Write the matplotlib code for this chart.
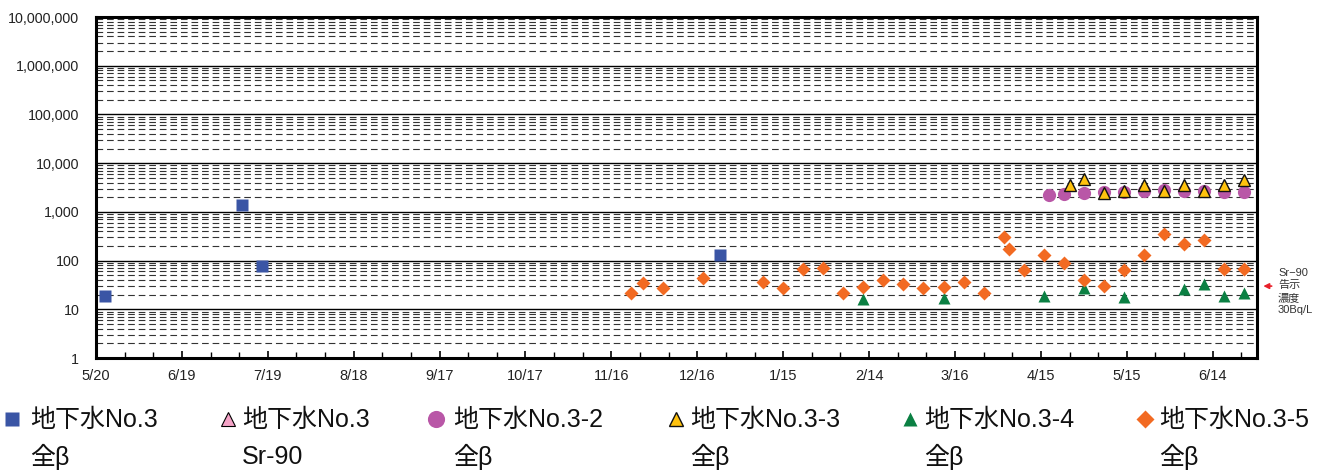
#!/usr/bin/env python
"""Groundwater No.3 series: total beta / Sr-90 concentrations (Bq/L), log scale."""

import datetime as dt

import matplotlib
matplotlib.use("Agg")
import matplotlib.pyplot as plt
import matplotlib.dates as mdates
from matplotlib.lines import Line2D
from matplotlib.ticker import FixedLocator, FuncFormatter, NullFormatter

plt.rcParams['font.family'] = ['Liberation Sans', 'Noto Sans CJK JP', 'DejaVu Sans']

# ---- data ------------------------------------------------------------------
no3_dates = ['2013-05-23', '2013-07-10', '2013-07-17', '2013-12-24']
no3_vals = [19, 1400, 77, 130]

no3_sr90_dates = []          # legend entry only, no points visible
no3_sr90_vals = []

no3_2_dates = ['2014-04-18', '2014-04-23', '2014-04-30', '2014-05-07', '2014-05-14',
               '2014-05-21', '2014-05-28', '2014-06-04', '2014-06-11', '2014-06-18',
               '2014-06-25']
no3_2_vals = [2220, 2300, 2400, 2520, 2600, 2700, 2850, 2700, 2700, 2600, 2600]

no3_3_dates = ['2014-04-25', '2014-04-30', '2014-05-07', '2014-05-14', '2014-05-21',
               '2014-05-28', '2014-06-04', '2014-06-11', '2014-06-18', '2014-06-25']
no3_3_vals = [3550, 4650, 2500, 2700, 3600, 2700, 3600, 2700, 3550, 4450]

no3_4_dates = ['2014-02-12', '2014-03-12', '2014-04-16', '2014-04-30', '2014-05-14',
               '2014-06-04', '2014-06-11', '2014-06-18', '2014-06-25']
no3_4_vals = [16.5, 17.3, 19, 27, 18, 26, 33, 19, 22]

no3_5_dates = ['2013-11-23', '2013-11-27', '2013-12-04', '2013-12-18', '2014-01-08',
               '2014-01-15', '2014-01-22', '2014-01-29', '2014-02-05', '2014-02-12',
               '2014-02-19', '2014-02-26', '2014-03-05', '2014-03-12', '2014-03-19',
               '2014-03-26', '2014-04-02', '2014-04-04', '2014-04-09', '2014-04-16',
               '2014-04-23', '2014-04-30', '2014-05-07', '2014-05-14', '2014-05-21',
               '2014-05-28', '2014-06-04', '2014-06-11', '2014-06-18', '2014-06-25']
no3_5_vals = [22, 35, 28, 43, 36, 28, 68, 69, 22, 29,
              40, 33, 28, 29, 37, 22, 300, 170, 64, 128,
              89, 40, 30, 65, 128, 350, 215, 260, 68, 68]

legend_line1 = ['地下水No.3', '地下水No.3', '地下水No.3-2', '地下水No.3-3',
                '地下水No.3-4', '地下水No.3-5']
legend_line2 = ['全β', 'Sr-90', '全β', '全β', '全β', '全β']

y_ticks = [1, 10, 100, 1000, 10000, 100000, 1000000, 10000000]
SR90_LIMIT = 30
limit_lines = ['Sr\u221290', '告示', '濃度', '30Bq/L']

START = dt.date(2013, 5, 20)
END = dt.date(2014, 6, 29)


def to_dates(strings):
    return [dt.datetime.strptime(s, '%Y-%m-%d') for s in strings]


# ---- styles ----------------------------------------------------------------
series = [
    (no3_dates, no3_vals, dict(marker='s', ms=8, color='#3a55a5', mec='none')),
    (no3_sr90_dates, no3_sr90_vals, dict(marker='^', ms=8, color='#f5a3c7', mec='black', mew=0.8)),
    (no3_2_dates, no3_2_vals, dict(marker='o', ms=9.5, color='#b957a7', mec='none')),
    (no3_3_dates, no3_3_vals, dict(marker='^', ms=8, color='#ffc20e', mec='#111111', mew=1.0)),
    (no3_4_dates, no3_4_vals, dict(marker='^', ms=8, color='#0b8043', mec='none')),
    (no3_5_dates, no3_5_vals, dict(marker='D', ms=7, color='#f26a22', mec='none')),
]

W, H = 1337.0, 473.0
fig = plt.figure(figsize=(13.37, 4.73), dpi=100)
ax = fig.add_axes([0.0718, 0.243, 0.8684, 0.721])

for d, v, st in series:
    ax.plot(to_dates(d), v, linestyle='none', **st)

ax.set_yscale('log')
ax.set_ylim(1, 1e7)
ax.set_xlim(mdates.date2num(START), mdates.date2num(END) + 0.5)

# grid: solid decades, dashed 2..9
ax.yaxis.set_major_locator(FixedLocator(y_ticks))
ax.yaxis.set_major_formatter(FuncFormatter(lambda v, p: f'{int(round(v)):,}'))
ax.yaxis.set_minor_formatter(NullFormatter())
ax.grid(axis='y', which='major', color='black', linewidth=1.0, linestyle='-')
ax.grid(axis='y', which='minor', color='#333333', linewidth=0.8,
        linestyle=(0, (6, 3.5)))
ax.set_axisbelow(True)

# x ticks: every 30 days labelled, minor every 10 days
major_x = [mdates.date2num(START + dt.timedelta(days=30 * i)) for i in range(14)]
minor_x = [mdates.date2num(START + dt.timedelta(days=10 * i)) for i in range(41)]
ax.xaxis.set_major_locator(FixedLocator(major_x))
ax.xaxis.set_minor_locator(FixedLocator(minor_x))
ax.xaxis.set_major_formatter(FuncFormatter(
    lambda v, p: f'{mdates.num2date(v).month}/{mdates.num2date(v).day}'))
ax.tick_params(axis='x', which='major', direction='in', length=5, width=1.2,
               pad=8, labelsize=10.5, labelcolor='#222222')
ax.tick_params(axis='x', which='minor', direction='in', length=4, width=1.0)
ax.tick_params(axis='y', which='both', length=0, pad=12, labelsize=10.3,
               labelcolor='#222222')

for sp in ax.spines.values():
    sp.set_linewidth(2.2)
    sp.set_color('black')

# Sr-90 limit marker on the right
ax.annotate('', xy=(1.003, SR90_LIMIT), xycoords=('axes fraction', 'data'),
            xytext=(1.015, SR90_LIMIT), textcoords=('axes fraction', 'data'),
            arrowprops=dict(arrowstyle='-|>', color='#e8202a', lw=1.2,
                            mutation_scale=8), annotation_clip=False)
for k, line in enumerate(limit_lines):
    fig.text(1278 / W, 1 - (273 + 12.3 * k) / H, line, fontsize=8,
             color='#333333', ha='left', va='center')

# legend drawn by hand under the plot
leg_marker_x = [12, 228, 436, 676, 910, 1145]
leg_text_x = [30, 242, 453, 690, 924, 1159]
for i, (d, v, st) in enumerate(series):
    st = dict(st)
    st['ms'] = st['ms'] * 1.3
    fig.add_artist(Line2D([leg_marker_x[i] / W], [1 - 419 / H],
                          transform=fig.transFigure, linestyle='none', **st))
    fig.text(leg_text_x[i] / W, 1 - 420 / H, legend_line1[i], fontsize=18,
             ha='left', va='center', color='#111111')
    fig.text(leg_text_x[i] / W, 1 - 457 / H, legend_line2[i], fontsize=18,
             ha='left', va='center', color='#111111')

fig.savefig('out.png', dpi=100)
